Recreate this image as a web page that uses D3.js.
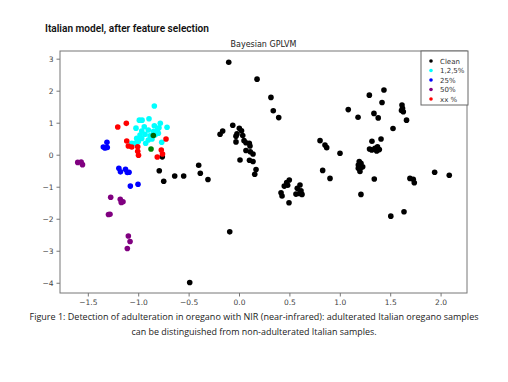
<!DOCTYPE html>
<html><head><meta charset="utf-8">
<script src="https://cdn.jsdelivr.net/npm/d3@7"></script>
<style>body{margin:0;background:#fff}svg{display:block}</style>
</head><body>
<script>
// ---- data ----
const seriesNames = ["Clean", "1,2,5%", "25%", "50%", "xx %"];
const seriesColors = ["#000000", "#00ffff", "#0000ff", "#800080", "#ff0000"];
const cleanX = [-0.102,0.179,0.317,0.340,0.394,-0.062,-0.188,-0.162,0.003,0.025,-0.02,-0.03,0.037,-0.03,0.05,0.069,0.102,0.109,0.069,0.112,0.139,0.01,0.104,0.139,0.169,0.156,-0.761,-0.791,-0.747,-0.638,-0.549,-0.40,-0.384,-0.308,-0.092,-0.489,0.499,0.473,0.449,0.483,0.417,0.427,0.496,0.605,0.578,0.615,0.565,0.598,0.625,0.804,0.853,0.870,1.002,0.830,0.903,1.084,1.181,1.293,1.438,1.419,1.339,1.381,1.617,1.622,1.612,1.630,1.662,1.528,1.409,1.319,1.295,1.317,1.349,1.374,1.366,1.392,1.193,1.184,1.210,1.227,1.184,1.20,1.21,1.21,1.342,1.506,1.637,1.696,1.729,1.739,1.941,2.086];
const cleanY = [2.89,2.36,1.79,1.375,1.16,0.92,0.64,0.74,0.825,0.75,0.65,0.58,0.60,0.40,0.44,0.375,0.356,0.27,0.13,0.094,0.02,-0.166,-0.175,-0.21,-0.46,-0.61,-0.066,-0.50,-0.83,-0.666,-0.666,-0.33,-0.58,-0.775,-2.41,-3.99,-0.79,-0.87,-0.98,-0.956,-1.19,-1.29,-1.50,-0.947,-1.05,-1.125,-1.23,-1.21,-1.24,0.44,0.30,0.22,0.044,-0.49,-0.74,1.41,1.17,1.86,2.02,1.63,1.29,1.15,1.55,1.45,1.38,1.34,1.08,0.82,0.49,0.42,0.18,0.15,0.20,0.25,0.116,0.16,-0.21,-0.32,-0.27,-0.375,-0.425,-0.525,-0.40,-1.24,-0.76,-1.92,-1.78,-0.74,-0.77,-0.875,-0.55,-0.64];
const lowX = [-0.840,-0.989,-0.962,-0.893,-0.781,-0.714,-1.022,-0.940,-0.840,-0.794,-0.965,-0.900,-0.850,-0.800,-0.982,-0.933,-0.883,-0.833,-0.965,-0.900,-0.999,-0.926,-0.767,-1.032,-1.064,-1.015,-0.863,-0.81];
const lowY = [1.52,1.08,1.08,1.125,0.98,0.86,0.83,0.875,0.906,0.844,0.74,0.77,0.72,0.67,0.615,0.64,0.59,0.615,0.51,0.46,0.41,0.356,0.39,0.356,0.356,0.51,0.49,0.77];
const p25X = [-1.346,-1.31,-1.307,-1.33,-1.192,-1.176,-1.126,-1.108,-1.091,-1.078,-1.002];
const p25Y = [0.24,0.39,0.225,0.21,-0.425,-0.535,-0.456,-0.556,-0.55,-0.98,-0.925];
const p50X = [-1.60,-1.566,-1.553,-1.273,-1.178,-1.168,-1.151,-1.28,-1.295,-1.098,-1.081,-1.108];
const p50Y = [-0.24,-0.23,-0.31,-1.33,-1.39,-1.49,-1.47,-1.86,-1.87,-2.54,-2.71,-2.93];
const xxX = [-1.203,-1.118,-1.114,-1.098,-1.064,-1.005,-1.005,-0.997,-0.724,-0.771,-0.759,-0.811];
const xxY = [0.866,0.98,0.43,0.27,0.24,0.25,0.106,-0.016,0.49,0.147,0.02,-0.07];
const otherX = [-0.873,-0.850];
const otherY = [0.18,0.60];
const otherColors = ["#008000","#006400"];
const xTicks = [-1.5,-1.0,-0.5,0.0,0.5,1.0,1.5,2.0];
const yTicks = [3,2,1,0,-1,-2,-3,-4];
const header = "Italian model, after feature selection";
const chartTitle = "Bayesian GPLVM";
const caption = ["Figure 1: Detection of adulteration in oregano with NIR (near-infrared): adulterated Italian oregano samples",
                 "can be distinguished from non-adulterated Italian samples."];

// ---- drawing ----
const W = 508, H = 382;
const svg = d3.select("body").append("svg").attr("width", W).attr("height", H);
const L = 60, R = 467, T = 51, B = 293;
const x = d3.scaleLinear().domain([-1.776, 2.262]).range([L, R]);
const y = d3.scaleLinear().domain([-4.32, 3.24]).range([B, T]);

svg.append("text").attr("x", 45).attr("y", 32).text(header)
  .attr("font-family", "Roboto").attr("font-weight", 600).attr("font-size", 11)
  .attr("textLength", 164).attr("lengthAdjust", "spacingAndGlyphs").attr("fill", "#111");

svg.append("text").attr("x", (L + R) / 2).attr("y", 47).attr("text-anchor", "middle")
  .attr("font-family", "DejaVu Sans").attr("font-size", 8).attr("fill", "#222").text(chartTitle);

const series = [
  {xs: cleanX, ys: cleanY, c: seriesColors[0]},
  {xs: lowX, ys: lowY, c: seriesColors[1]},
  {xs: p25X, ys: p25Y, c: seriesColors[2]},
  {xs: p50X, ys: p50Y, c: seriesColors[3]},
  {xs: xxX, ys: xxY, c: seriesColors[4]}
];
const gPts = svg.append("g");
series.forEach(s => {
  gPts.selectAll(null).data(s.xs.map((v, i) => [v, s.ys[i]])).enter().append("circle")
    .attr("cx", d => x(d[0])).attr("cy", d => y(d[1])).attr("r", 2.8).attr("fill", s.c);
});
gPts.selectAll(null).data(otherX.map((v, i) => [v, otherY[i], otherColors[i]])).enter().append("circle")
  .attr("cx", d => x(d[0])).attr("cy", d => y(d[1])).attr("r", 2.8).attr("fill", d => d[2]);

// frame
svg.append("rect").attr("x", L).attr("y", T).attr("width", R - L).attr("height", B - T)
  .attr("fill", "none").attr("stroke", "#777").attr("stroke-width", 1);

const fmt = d => (d < 0 ? "\u2212" : "") + Math.abs(d).toFixed(1);
const xAxis = svg.append("g").attr("transform", `translate(0,${B})`)
  .call(d3.axisBottom(x).tickValues(xTicks).tickFormat(fmt).tickSize(3.5).tickPadding(3));
const yAxis = svg.append("g").attr("transform", `translate(${L},0)`)
  .call(d3.axisLeft(y).tickValues(yTicks).tickFormat(d => (d < 0 ? "\u2212" : "") + Math.abs(d)).tickSize(3.5).tickPadding(3));
[xAxis, yAxis].forEach(a => {
  a.select(".domain").remove();
  a.selectAll("line").attr("stroke", "#777");
  a.selectAll("text").attr("font-family", "DejaVu Sans").attr("font-size", 7.5).attr("fill", "#444");
});

// legend
const lg = svg.append("g");
lg.append("rect").attr("x", 421).attr("y", 51).attr("width", 47).attr("height", 54)
  .attr("fill", "#fff").attr("stroke", "#666").attr("stroke-width", 1);
seriesNames.forEach((n, i) => {
  const yy = 61 + i * 9.5;
  lg.append("circle").attr("cx", 431).attr("cy", yy).attr("r", 1.8).attr("fill", seriesColors[i]);
  lg.append("text").attr("x", 440).attr("y", yy + 2.6).text(n)
    .attr("font-family", "DejaVu Sans").attr("font-size", 7).attr("fill", "#333");
});

// caption
svg.append("text").attr("x", 254).attr("y", 320).attr("text-anchor", "middle").text(caption[0])
  .attr("font-family", "Open Sans").attr("font-size", 8.5).attr("fill", "#222")
  .attr("textLength", 449).attr("lengthAdjust", "spacingAndGlyphs");
svg.append("text").attr("x", 254).attr("y", 335).attr("text-anchor", "middle").text(caption[1])
  .attr("font-family", "Open Sans").attr("font-size", 8.5).attr("fill", "#222")
  .attr("textLength", 245).attr("lengthAdjust", "spacingAndGlyphs");
</script>
</body></html>
